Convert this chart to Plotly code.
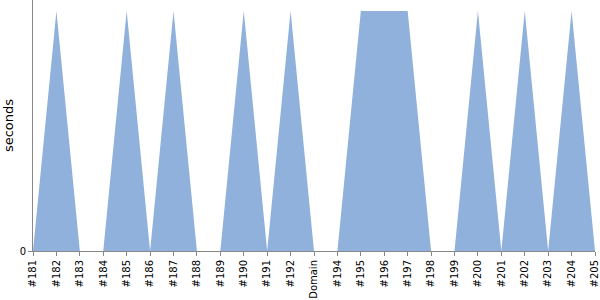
import plotly.graph_objects as go

categories = ["#181", "#182", "#183", "#184", "#185", "#186", "#187", "#188", "#189",
              "#190", "#191", "#192", "Domain", "#194", "#195", "#196", "#197", "#198",
              "#199", "#200", "#201", "#202", "#203", "#204", "#205"]
seconds = [0, 1, 0, 0, 1, 0, 1, 0, 0, 1, 0, 1, 0, 0, 1, 1, 1, 0, 0, 1, 0, 1, 0, 1, 0]

FONT = "DejaVu Sans"

fig = go.Figure()
fig.add_trace(go.Scatter(
    x=categories, y=seconds, mode="lines", line=dict(width=0, color="#8fb1db"),
    fill="tozeroy", fillcolor="#8fb1db", hoverinfo="x+y"
))

fig.update_layout(
    width=600, height=300,
    margin=dict(l=33, r=5, t=0, b=49),
    plot_bgcolor="white", paper_bgcolor="white",
    showlegend=False,
    font=dict(family=FONT, size=11, color="#000"),
)
fig.update_xaxes(
    type="category", range=[0, len(categories) - 1], tickangle=-90, automargin=False,
    showline=True, linecolor="#888", linewidth=1, showgrid=False,
    ticks="outside", ticklen=4, tickcolor="#888", tickfont=dict(family=FONT, size=10),
)
fig.update_yaxes(
    range=[0, 251 / 240], tickvals=[0], ticktext=["0"], automargin=False,
    showline=True, linecolor="#888", linewidth=1, showgrid=False, zeroline=False,
    ticks="outside", ticklen=4, tickcolor="#888", tickfont=dict(family=FONT, size=10),
    title=dict(text="seconds", standoff=3, font=dict(family=FONT, size=13)),
)
fig.write_html("out.html")
